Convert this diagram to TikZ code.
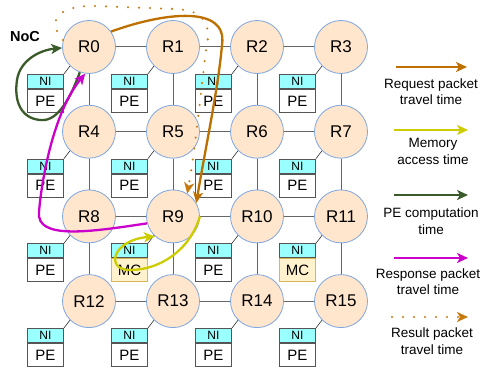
\documentclass[tikz,border=0pt]{standalone}
\usepackage{fontspec}
\setmainfont{Liberation Sans}
\usetikzlibrary{arrows.meta}
\definecolor{rfill}{HTML}{FFE6CC}
\definecolor{rline}{HTML}{7EA6E0}
\definecolor{nifill}{HTML}{99FFFF}
\definecolor{mcfill}{HTML}{FFF2CC}
\definecolor{mcline}{HTML}{D6B656}
\definecolor{boxline}{HTML}{555555}
\definecolor{gridc}{HTML}{666666}
\definecolor{reqc}{HTML}{BD7000}
\definecolor{resc}{HTML}{C87A10}
\definecolor{memc}{HTML}{CCCC00}
\definecolor{pec}{HTML}{3A5A2A}
\definecolor{rspc}{HTML}{CC00CC}
\begin{document}
\begin{tikzpicture}[x=1pt,y=-1pt,
  router/.style={circle,draw=rline,fill=rfill,line width=0.8pt,minimum size=53pt,inner sep=0pt,font=\fontsize{17}{17}\selectfont},
  nibox/.style={rectangle,draw=boxline,fill=nifill,line width=0.9pt,minimum width=36pt,minimum height=14pt,inner sep=0pt,anchor=north west,font=\fontsize{12}{12}\selectfont},
  pebox/.style={rectangle,draw=boxline,fill=white,line width=0.9pt,minimum width=36pt,minimum height=23pt,inner sep=0pt,anchor=north west,font=\fontsize{15}{15}\selectfont},
  mcbox/.style={pebox,draw=mcline,fill=mcfill},
  gridline/.style={draw=gridc,line width=1pt},
  tie/.style={draw=black!80,line width=0.6pt},
  flow/.style={line width=2.3pt,-{Stealth[length=11pt,width=10pt,inset=3pt]}},
  dotflow/.style={line width=2.3pt,line cap=round,dash pattern=on 0pt off 11pt,-{Stealth[length=11pt,width=10pt,inset=3pt,sep=0pt]}},
  legend/.style={align=center,font=\fontsize{13.5}{16.5}\selectfont}
]
\fill[white] (0,0) rectangle (481,369);
\useasboundingbox (0,0) rectangle (481,369);

\foreach \i in {0,...,15} {
  \pgfmathtruncatemacro\cc{mod(\i,4)}
  \pgfmathtruncatemacro\rr{div(\i,4)}
  \pgfmathsetmacro\cx{89+84*\cc}
  \pgfmathsetmacro\cy{47+84.7*\rr}
  \node[router] (R\i) at (\cx,\cy) {R\i};
  \node[nibox] (NI\i) at (\cx-62,\cy+27) {NI};
  \ifnum\i=9
    \node[mcbox] (B\i) at (NI\i.south west) {MC};
  \else\ifnum\i=11
    \node[mcbox] (B\i) at (NI\i.south west) {MC};
  \else
    \node[pebox] (B\i) at (NI\i.south west) {PE};
  \fi\fi
  \draw[tie] (NI\i.north east) -- (R\i.225);
}
% grid
\foreach \a/\b in {0/1,1/2,2/3,4/5,5/6,6/7,8/9,9/10,10/11,12/13,13/14,14/15,
                   0/4,4/8,8/12,1/5,5/9,9/13,2/6,6/10,10/14,3/7,7/11,11/15}
  \draw[gridline] (R\a) -- (R\b);

\node[font=\bfseries\fontsize{14.5}{14.5}\selectfont] (noc) at (25,37) {NoC};

% flows
\draw[dotflow,draw=resc] (R0.165) .. controls (45,20) and (60,5) .. (95,6)
   -- (175,9) .. controls (205,10) and (212,25) .. (206,50)
   .. controls (200,100) and (195,150) .. (R9.58);
\draw[flow,draw=reqc] (R0.35) .. controls (165,12) and (228,5) .. (222,45)
   .. controls (218,90) and (205,150) .. (R9.30);
\draw[flow,draw=pec] (R0.250) .. controls (68,105) and (55,122) .. (40,120)
   .. controls (20,118) and (14,100) .. (17,80) .. controls (20,60) and (40,50) .. (R0.182);
\draw[flow,draw=rspc] (R9.195) .. controls (90,232) and (36,240) .. (39,212)
   .. controls (42,175) and (55,110) .. (R0.262);
\draw[flow,draw=memc] (R9.0) .. controls (190,250) and (160,270) .. (130,270)
   .. controls (105,270) and (112,240) .. (R9.228);

% legend
\coordinate (l1a) at (396,67);  \coordinate (l1b) at (467,67);
\coordinate (l2a) at (394,130); \coordinate (l2b) at (468,130);
\coordinate (l3a) at (394,195); \coordinate (l3b) at (468,195);
\coordinate (l4a) at (394,258); \coordinate (l4b) at (468,258);
\coordinate (l5a) at (392,317); \coordinate (l5b) at (468,317);
\draw[flow,draw=reqc] (l1a) -- (l1b);
\draw[flow,draw=memc] (l2a) -- (l2b);
\draw[flow,draw=pec] (l3a) -- (l3b);
\draw[flow,draw=rspc] (l4a) -- (l4b);
\draw[dotflow,draw=resc] (l5a) -- (l5b);
\node[legend] (t1) at (431,91.5) {Request packet\\travel time};
\node[legend] (t2) at (433,151.5) {Memory\\access time};
\node[legend] (t3) at (431,221) {PE computation\\time};
\node[legend] (t4) at (428,281.5) {Response packet\\travel time};
\node[legend] (t5) at (432,341) {Result packet\\travel time};
\end{tikzpicture}
\end{document}
